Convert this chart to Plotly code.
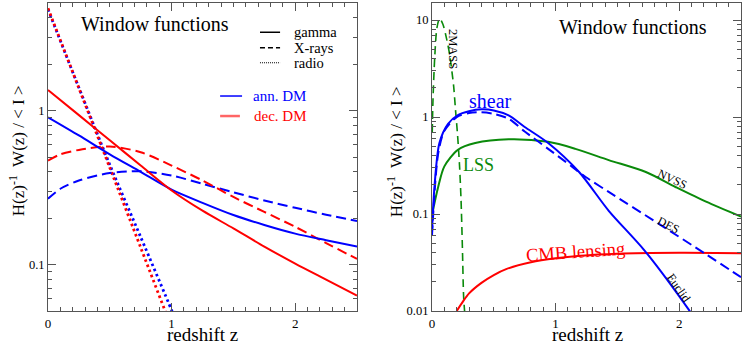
import math
import plotly.graph_objects as go

# ---------------- Left panel data ----------------
z_left = [0, 0.25, 0.5, 0.75, 1.0, 1.25, 1.5, 1.75, 2.0, 2.25, 2.5]
ann_gamma = [0.905, 0.69, 0.52, 0.40, 0.307, 0.252, 0.21, 0.181, 0.159, 0.144, 0.131]
dec_gamma = [1.36, 0.935, 0.643, 0.44, 0.303, 0.224, 0.172, 0.131, 0.1016, 0.080, 0.063]

z_xray = [0, 0.1, 0.25, 0.5, 0.75, 1.0, 1.25, 1.5, 1.75, 2.0, 2.25, 2.5]
ann_xray = [0.268, 0.311, 0.352, 0.393, 0.404, 0.379, 0.335, 0.295, 0.261, 0.234, 0.211, 0.192]
dec_xray = [0.474, 0.52, 0.556, 0.585, 0.537, 0.44, 0.352, 0.275, 0.22, 0.176, 0.138, 0.109]

z_radio = [0, 0.25, 0.5, 0.75, 1.0, 1.05]
ann_radio = [4.55, 1.41, 0.445, 0.151, 0.0506, 0.04]
dec_radio = [4.62, 1.40, 0.426, 0.129, 0.039, 0.031]

# ---------------- Right panel data ----------------
z_2mass = [0.002, 0.008, 0.022, 0.04, 0.062, 0.089, 0.116, 0.143, 0.157, 0.175, 0.19,
           0.207, 0.222, 0.235, 0.246, 0.256, 0.265]
w_2mass = [0.7, 1.5, 4.1, 8.3, 10.4, 9.0, 6.6, 4.4, 3.25, 2.1, 1.2,
           0.65, 0.33, 0.14, 0.045, 0.014, 0.0095]

z_euclid = [0, 0.02, 0.06, 0.13, 0.21, 0.3, 0.4, 0.5, 0.62, 0.75, 0.94, 1.19, 1.43, 1.72, 2.08, 2.15]
w_euclid = [0.065, 0.19, 0.54, 0.85, 1.05, 1.15, 1.2, 1.17, 1.04, 0.79, 0.54, 0.271, 0.108, 0.042, 0.0102, 0.0075]

z_des = [0, 0.05, 0.1, 0.2, 0.3, 0.4, 0.5, 0.62, 0.75, 0.94, 1.13, 1.243, 1.43, 1.83, 2.21, 2.5]
w_des = [0.06, 0.42, 0.72, 1.0, 1.1, 1.12, 1.08, 0.96, 0.71, 0.47, 0.31, 0.241, 0.169, 0.080, 0.039, 0.0223]

z_nvss = [0, 0.05, 0.1, 0.21, 0.35, 0.62, 0.94, 1.16, 1.43, 1.73, 1.97, 2.217, 2.5]
w_nvss = [0.098, 0.19, 0.31, 0.46, 0.54, 0.59, 0.555, 0.47, 0.36, 0.271, 0.19, 0.134, 0.094]

z_cmb = [0.2, 0.25, 0.3, 0.4, 0.5, 0.6, 0.8, 1.0, 1.2, 1.5, 2.0, 2.5]
w_cmb = [0.01, 0.0125, 0.0152, 0.0195, 0.0235, 0.027, 0.0318, 0.035, 0.0372, 0.039, 0.0398, 0.0395]

BLUE = "#0000ff"
RED = "#ff0000"
GREEN = "#0a8a0a"
AX = "#555555"
FONT = "Liberation Serif"
DASH = "10px,5px"
DOT = "2.5px,3px"

fig = go.Figure()

def add(x, y, color, dash="solid", width=2, xa="x", ya="y"):
    fig.add_trace(go.Scatter(x=x, y=y, mode="lines", xaxis=xa, yaxis=ya, showlegend=False,
                             line=dict(color=color, width=width, dash=dash, shape="spline", smoothing=0.8),
                             hoverinfo="skip"))

# left panel
add(z_radio, ann_radio, BLUE, DOT, 2.8)
add(z_radio, dec_radio, RED, DOT, 2.8)
add(z_xray, ann_xray, BLUE, DASH)
add(z_xray, dec_xray, RED, DASH)
add(z_left, ann_gamma, BLUE)
add(z_left, dec_gamma, RED)

# right panel
add(z_2mass, w_2mass, GREEN, "8px,5px", 1.6, "x2", "y2")
add(z_nvss, w_nvss, GREEN, "solid", 2, "x2", "y2")
add(z_cmb, w_cmb, RED, "solid", 2, "x2", "y2")
add(z_des, w_des, BLUE, DASH, 2, "x2", "y2")
add(z_euclid, w_euclid, BLUE, "solid", 2, "x2", "y2")

def xax(domain, anchor):
    return dict(domain=domain, anchor=anchor, range=[0, 2.5], tick0=0, dtick=1,
                ticks="inside", ticklen=8, tickcolor=AX, tickwidth=1,
                showline=True, linecolor=AX, linewidth=1, mirror="allticks",
                showgrid=False, zeroline=False,
                minor=dict(dtick=0.1, tick0=0, ticks="inside", ticklen=4, tickcolor=AX, showgrid=False),
                tickfont=dict(family=FONT, size=13, color="black"))

def yax(rng, anchor):
    return dict(type="log", range=rng, anchor=anchor, dtick=1,
                ticks="inside", ticklen=8, tickcolor=AX, tickwidth=1,
                showline=True, linecolor=AX, linewidth=1, mirror="allticks",
                showgrid=False, zeroline=False,
                minor=dict(dtick="D1", ticks="inside", ticklen=4, tickcolor=AX, showgrid=False),
                tickfont=dict(family=FONT, size=12.5, color="black"))

fig.update_layout(
    width=744, height=344,
    margin=dict(l=48, r=3, t=3, b=33),
    paper_bgcolor="white", plot_bgcolor="white",
    xaxis=xax([0, 0.4459], "y"),
    yaxis=yax([math.log10(0.05), math.log10(5)], "x"),
    xaxis2=xax([0.5541, 1], "y2"),
    yaxis2=yax([-2, math.log10(15)], "x2"),
    font=dict(family=FONT, color="black"),
)

ann = []
def txt(text, x, y, xref, yref, size, color="black", angle=0, xanchor="center"):
    ann.append(dict(text=text, x=x, y=y, xref=xref, yref=yref, showarrow=False,
                    font=dict(family=FONT, size=size, color=color), textangle=angle,
                    xanchor=xanchor, yanchor="middle"))

# axis titles
ytitle = "H(z)<sup>-1</sup>  W(z) / &lt; I &gt;"
txt(ytitle, -0.0447, 0.519, "paper", "paper", 17, angle=-90)
txt(ytitle, 0.5007, 0.519, "paper", "paper", 17, angle=-90)
txt("redshift z", 0.223, -0.076, "paper", "paper", 19)
txt("redshift z", 0.778, -0.076, "paper", "paper", 19)

# left panel texts
txt("Window functions", 0.346, 0.932, "x domain", "y domain", 20)
txt("gamma", 0.790, 0.905, "x domain", "y domain", 14.5, xanchor="left")
txt("X-rays", 0.790, 0.855, "x domain", "y domain", 14.5, xanchor="left")
txt("radio", 0.790, 0.806, "x domain", "y domain", 14.5, xanchor="left")
txt("ann. DM", 0.657, 0.698, "x domain", "y domain", 15, BLUE, xanchor="left")
txt("dec. DM", 0.660, 0.633, "x domain", "y domain", 15, RED, xanchor="left")

# right panel texts
txt("Window functions", 0.650, 0.922, "x2 domain", "y2 domain", 20)
txt("2MASS", 0.068, 0.851, "x2 domain", "y2 domain", 12.5, angle=90)
txt("shear", 0.188, 0.682, "x2 domain", "y2 domain", 20, BLUE)
txt("LSS", 0.149, 0.474, "x2 domain", "y2 domain", 18, GREEN)
txt("NVSS", 0.777, 0.429, "x2 domain", "y2 domain", 12, angle=25)
txt("DES", 0.764, 0.279, "x2 domain", "y2 domain", 12, angle=27)
txt("Euclid", 0.799, 0.075, "x2 domain", "y2 domain", 12, angle=55)
txt("CMB lensing", 0.463, 0.192, "x2 domain", "y2 domain", 18.5, RED, angle=-4)

fig.update_layout(annotations=ann)

shapes = []
def key(x0, x1, y, color, dash="solid", width=1.5, opacity=1):
    shapes.append(dict(type="line", xref="x domain", yref="y domain", x0=x0, x1=x1, y0=y, y1=y,
                       line=dict(color=color, width=width, dash=dash), opacity=opacity))

key(0.686, 0.751, 0.905, "black")
key(0.686, 0.751, 0.855, "black", "5px,3px")
key(0.686, 0.751, 0.806, "black", "1px,1px", 1)
key(0.557, 0.628, 0.698, BLUE, width=1.5)
key(0.557, 0.621, 0.633, RED, width=2.5, opacity=0.6)
fig.update_layout(shapes=shapes)

fig.write_html("out.html", config={"displayModeBar": False},
               post_script="document.body.style.margin='0';")
